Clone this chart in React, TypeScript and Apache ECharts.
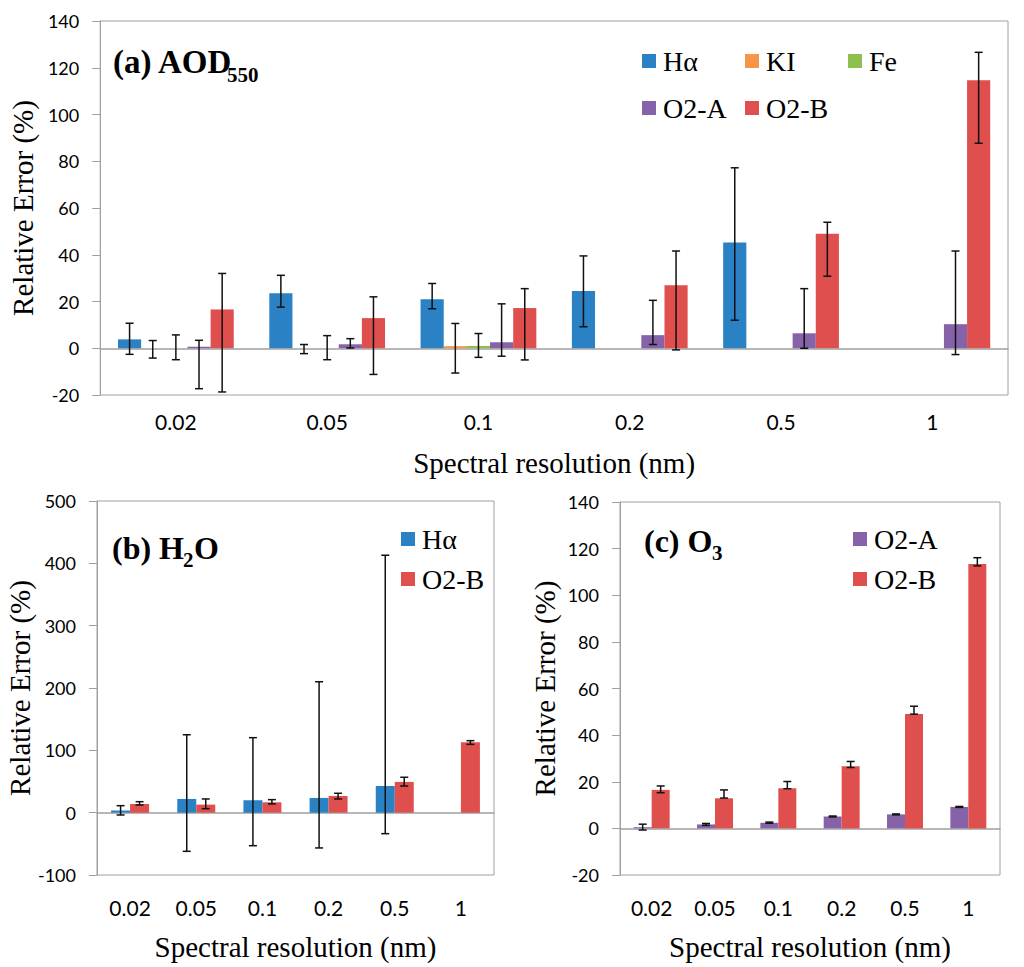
import React, { useEffect, useRef } from "react";
import * as echarts from "echarts";

const categories = ["0.02", "0.05", "0.1", "0.2", "0.5", "1"];

// (a) AOD550
const aodHa = [3.8, 23.5, 21.0, 24.5, 45.2, null];
const aodHaLow = [-2.6, 17.6, 16.9, 9.2, 12.0, null];
const aodHaHigh = [10.7, 31.2, 27.7, 39.5, 77.2, null];
const aodKI = [0, 0, 0.9, null, null, null];
const aodKILow = [-4.2, -2.3, -10.6, null, null, null];
const aodKIHigh = [3.3, 1.6, 10.6, null, null, null];
const aodFe = [0, 0, 1.0, null, null, null];
const aodFeLow = [-4.9, -4.9, -3.9, null, null, null];
const aodFeHigh = [5.7, 5.4, 6.3, null, null, null];
const aodO2A = [0.6, 1.7, 2.6, 5.6, 6.4, 10.3];
const aodO2ALow = [-17.3, 0.1, -3.4, 1.6, 0.0, -2.7];
const aodO2AHigh = [3.4, 4.1, 19.0, 20.5, 25.5, 41.6];
const aodO2B = [16.6, 12.9, 17.2, 26.9, 49.0, 114.7];
const aodO2BLow = [-18.7, -11.2, -5.0, -0.7, 30.8, 87.7];
const aodO2BHigh = [32.0, 22.0, 25.5, 41.6, 53.9, 126.6];

// (b) H2O
const h2oHa = [3.5, 22.0, 19.8, 23.6, 42.8, null];
const h2oHaLow = [-3.7, -62.0, -53.0, -56.6, -33.7, null];
const h2oHaHigh = [11.2, 125.0, 120.3, 210.0, 413.0, null];
const h2oO2B = [14.0, 12.9, 16.6, 26.8, 49.3, 113.0];
const h2oO2BLow = [12.3, 6.4, 14.0, 22.0, 42.8, 109.6];
const h2oO2BHigh = [17.6, 22.0, 20.9, 31.1, 56.8, 115.5];

// (c) O3
const o3O2A = [0.5, 1.7, 2.4, 5.1, 6.0, 9.2];
const o3O2ALow = [-0.7, 1.3, 2.2, 4.9, 5.8, 9.0];
const o3O2AHigh = [1.8, 2.1, 2.7, 5.3, 6.2, 9.4];
const o3O2B = [16.5, 12.9, 17.2, 26.7, 49.1, 113.4];
const o3O2BLow = [15.3, 13.0, 17.0, 26.1, 49.0, 112.6];
const o3O2BHigh = [18.2, 16.5, 20.1, 28.7, 52.4, 116.1];

const colors = {
  ha: "#2A81C4",
  ki: "#F79646",
  fe: "#8DC04F",
  o2a: "#8663A8",
  o2b: "#DE4F4E",
};

const gray = "#A0A0A0";
const serif = "Liberation Serif";
const sans = "Lato";

const barSeries = (name, color, data, g, frac) => ({
  type: "bar",
  name,
  data,
  xAxisIndex: g * 2,
  yAxisIndex: g,
  barWidth: frac * 100 + "%",
  barGap: "0%",
  itemStyle: { color },
});

// error bars sit on the bar slots, so offset them from the category centre
const errSeries = (low, high, g, slot, nSlots, frac) => ({
  type: "custom",
  xAxisIndex: g * 2,
  yAxisIndex: g,
  z: 5,
  silent: true,
  encode: { x: 0, y: [1, 2] },
  data: low
    .map((lo, i) => (lo == null ? null : [i, lo, high[i]]))
    .filter((d) => d != null),
  renderItem: (params, api) => {
    const i = api.value(0);
    const lo = api.coord([i, api.value(1)]);
    const hi = api.coord([i, api.value(2)]);
    const band = api.size([1, 0])[0];
    const x = lo[0] + (slot - (nSlots - 1) / 2) * band * frac;
    const style = { stroke: "#111", lineWidth: 1.5 };
    return {
      type: "group",
      children: [
        { type: "line", shape: { x1: x, y1: lo[1], x2: x, y2: hi[1] }, style },
        { type: "line", shape: { x1: x - 4, y1: lo[1], x2: x + 4, y2: lo[1] }, style },
        { type: "line", shape: { x1: x - 4, y1: hi[1], x2: x + 4, y2: hi[1] }, style },
      ],
    };
  },
});

const legendItem = (name, left, top) => ({
  data: [name],
  left,
  top,
  padding: 0,
  icon: "rect",
  itemWidth: 14,
  itemHeight: 14,
  selectedMode: false,
  textStyle: { fontFamily: serif, fontSize: 28, color: "#000", padding: [0, 0, 0, 2] },
});

const xAxesFor = (g, labelSize, labelMargin, nameGap) => [
  {
    type: "category",
    gridIndex: g,
    data: categories,
    position: "top",
    axisLine: { onZero: true, lineStyle: { color: gray, width: 1.5 } },
    axisTick: { inside: true, length: 8, lineStyle: { color: gray } },
    axisLabel: { show: false },
    splitLine: { show: false },
  },
  {
    type: "category",
    gridIndex: g,
    data: categories,
    position: "bottom",
    axisLine: { show: false, onZero: false },
    axisTick: { show: false },
    axisLabel: { fontFamily: sans, fontSize: labelSize, color: "#000", margin: labelMargin },
    name: "Spectral resolution (nm)",
    nameLocation: "middle",
    nameGap,
    nameTextStyle: { fontFamily: serif, fontSize: 29, color: "#000" },
  },
];

const yAxisFor = (g, min, max, interval, labelSize, nameGap) => ({
  type: "value",
  gridIndex: g,
  min,
  max,
  interval,
  axisLine: { show: true, lineStyle: { color: gray } },
  axisTick: { show: true, length: 8, lineStyle: { color: gray } },
  splitLine: { show: false },
  axisLabel: { fontFamily: sans, fontSize: labelSize, color: "#000", margin: 21 },
  name: "Relative Error (%)",
  nameLocation: "middle",
  nameRotate: 90,
  nameGap,
  nameTextStyle: { fontFamily: serif, fontSize: 29, color: "#000" },
});

const titleText = (text, x, y, size) => ({
  type: "text",
  x,
  y,
  style: {
    text,
    fontFamily: serif,
    fontWeight: "bold",
    fontSize: size,
    fill: "#000",
    verticalAlign: "middle",
  },
});

const App = () => {
  const chartRef = useRef(null);

  useEffect(() => {
    document.body.style.margin = "0";
    const chart = echarts.init(chartRef.current, null, { renderer: "svg" });

    const fA = 0.153;
    const fB = 0.287;
    const fC = 0.284;

    const options = {
      animation: false,
      grid: [
        { left: 90, top: 21, width: 918, height: 374, show: true, borderColor: gray, borderWidth: 1 },
        { left: 97, top: 501, width: 397, height: 374, show: true, borderColor: gray, borderWidth: 1 },
        { left: 620, top: 502, width: 380, height: 373, show: true, borderColor: gray, borderWidth: 1 },
      ],
      xAxis: [
        ...xAxesFor(0, 21, 16, 53),
        ...xAxesFor(1, 21, 22, 57),
        ...xAxesFor(2, 21, 22, 57),
      ],
      yAxis: [
        yAxisFor(0, -20, 140, 20, 18, 50),
        yAxisFor(1, -100, 500, 100, 18, 49),
        yAxisFor(2, -20, 140, 20, 18, 61),
      ],
      legend: [
        legendItem("Hα", 642, 47),
        legendItem("KI", 745, 47),
        legendItem("Fe", 848, 47),
        legendItem("O2-A", 642, 94),
        legendItem("O2-B", 745, 94),
        legendItem("Hα", 401, 525),
        legendItem("O2-B", 401, 565),
        legendItem("O2-A", 853, 525),
        legendItem("O2-B", 853, 565),
      ],
      graphic: [
        titleText("(a) AOD", 113, 62, 33),
        titleText("550", 227, 75, 21),
        titleText("(b) H", 112, 548, 32),
        titleText("2", 183, 560, 21),
        titleText("O", 194, 548, 32),
        titleText("(c) O", 644, 541, 32),
        titleText("3", 712, 553, 21),
      ],
      series: [
        barSeries("Hα", colors.ha, aodHa, 0, fA),
        barSeries("KI", colors.ki, aodKI, 0, fA),
        barSeries("Fe", colors.fe, aodFe, 0, fA),
        barSeries("O2-A", colors.o2a, aodO2A, 0, fA),
        barSeries("O2-B", colors.o2b, aodO2B, 0, fA),
        errSeries(aodHaLow, aodHaHigh, 0, 0, 5, fA),
        errSeries(aodKILow, aodKIHigh, 0, 1, 5, fA),
        errSeries(aodFeLow, aodFeHigh, 0, 2, 5, fA),
        errSeries(aodO2ALow, aodO2AHigh, 0, 3, 5, fA),
        errSeries(aodO2BLow, aodO2BHigh, 0, 4, 5, fA),

        barSeries("Hα", colors.ha, h2oHa, 1, fB),
        barSeries("O2-B", colors.o2b, h2oO2B, 1, fB),
        errSeries(h2oHaLow, h2oHaHigh, 1, 0, 2, fB),
        errSeries(h2oO2BLow, h2oO2BHigh, 1, 1, 2, fB),

        barSeries("O2-A", colors.o2a, o3O2A, 2, fC),
        barSeries("O2-B", colors.o2b, o3O2B, 2, fC),
        errSeries(o3O2ALow, o3O2AHigh, 2, 0, 2, fC),
        errSeries(o3O2BLow, o3O2BHigh, 2, 1, 2, fC),
      ],
    };

    chart.setOption(options);
    return () => chart.dispose();
  }, []);

  return <div ref={chartRef} style={{ width: "1024px", height: "967px" }} />;
};

export default App;
